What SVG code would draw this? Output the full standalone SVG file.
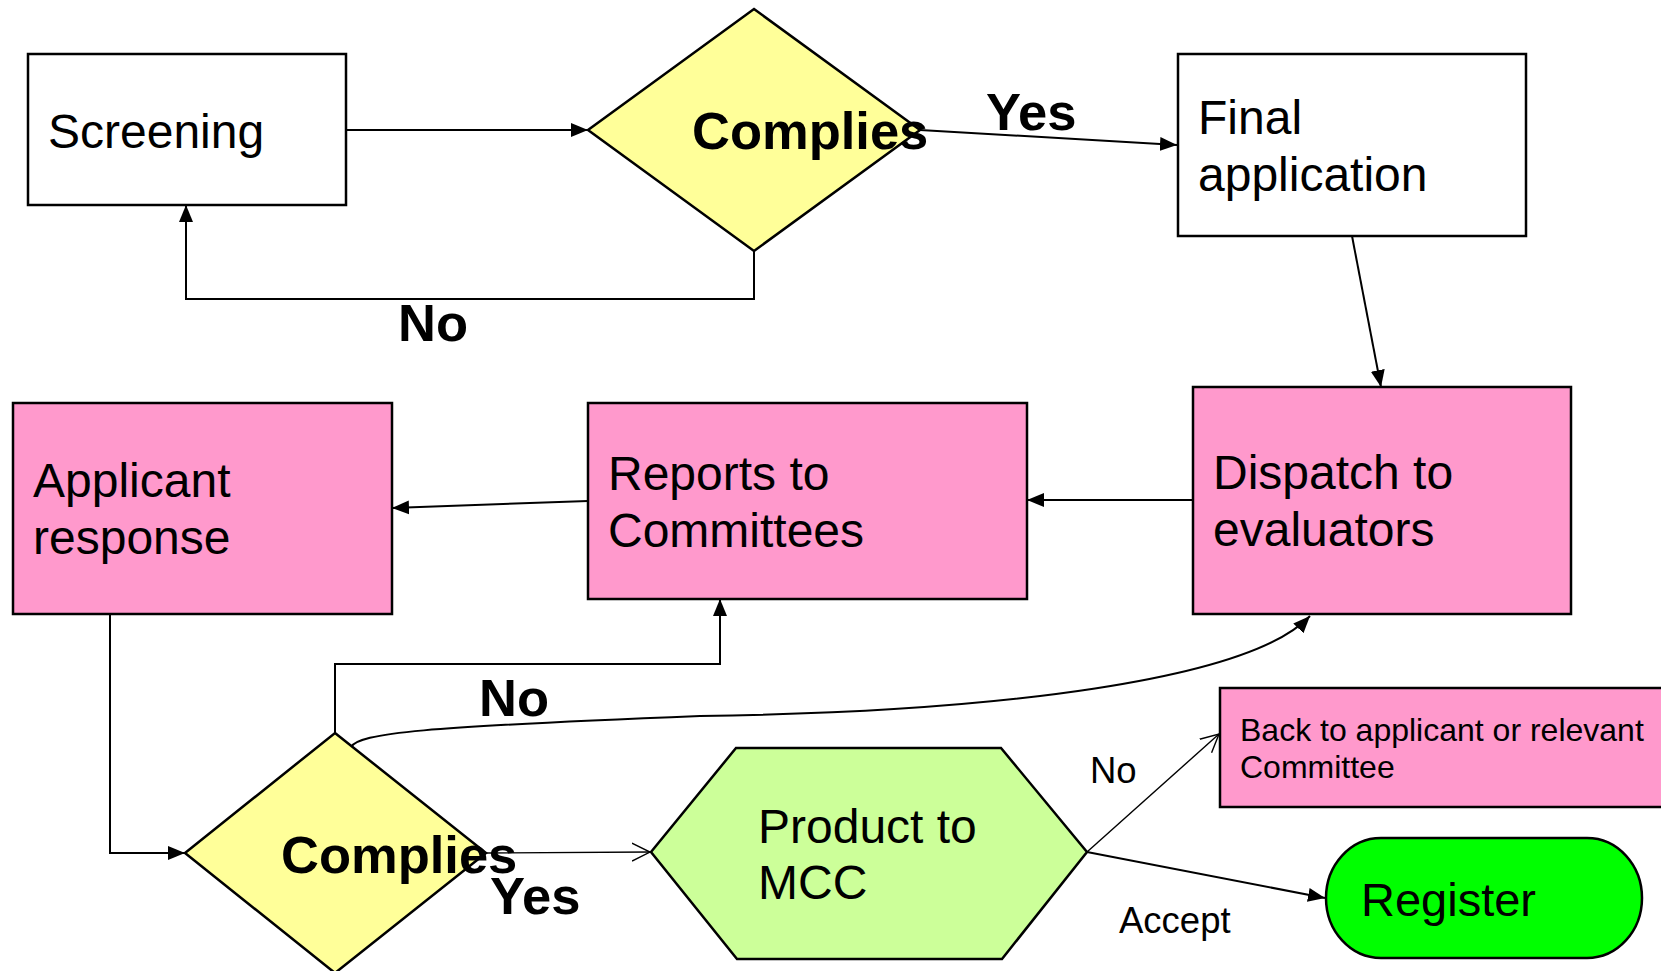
<svg xmlns="http://www.w3.org/2000/svg" width="1661" height="971" viewBox="0 0 1661 971">
<style>
.box{stroke:#000;stroke-width:2.5}
.t{font-family:"Liberation Sans",Arial,sans-serif;font-size:48px;fill:#000}
.b{font-family:"Liberation Sans",Arial,sans-serif;font-size:52.5px;font-weight:bold;fill:#000}
.s{font-family:"Liberation Sans",Arial,sans-serif;font-size:36.5px;fill:#000}
.c{fill:none;stroke:#000;stroke-width:2}
.thin{fill:none;stroke:#000;stroke-width:1.4}
</style>
<defs>
<marker id="arr" markerUnits="userSpaceOnUse" markerWidth="18" markerHeight="16" refX="17" refY="8" orient="auto"><path d="M0,1 L17,8 L0,15 Z" fill="#000"/></marker>
<marker id="open" markerUnits="userSpaceOnUse" markerWidth="20" markerHeight="20" refX="18" refY="10" orient="auto"><path d="M0,1 L18,10 L0,19" fill="none" stroke="#000" stroke-width="1.4"/></marker>
</defs>
<rect width="1661" height="971" fill="#fff"/>
<g id="connectors">
<line class="c" x1="346" y1="130" x2="588" y2="130" marker-end="url(#arr)"/>
<line class="c" x1="920" y1="130" x2="1177" y2="145" marker-end="url(#arr)"/>
<path class="c" d="M754,251 V299 H186 V205" marker-end="url(#arr)"/>
<line class="c" x1="1352" y1="236" x2="1381" y2="387" marker-end="url(#arr)"/>
<line class="c" x1="1193" y1="500" x2="1027" y2="500" marker-end="url(#arr)"/>
<line class="c" x1="588" y1="501" x2="392" y2="508" marker-end="url(#arr)"/>
<path class="c" d="M110,614 V853 H185" marker-end="url(#arr)"/>
<path class="c" d="M335,733 V664 H720 V599" marker-end="url(#arr)"/>
<path class="c" d="M351,747 C360,733 420,727 700,716 C1000,712 1250,680 1310,616" marker-end="url(#arr)"/>
<line class="thin" x1="486" y1="853" x2="650" y2="852" marker-end="url(#open)"/>
<line class="thin" x1="1087" y1="852" x2="1219" y2="734" marker-end="url(#open)"/>
<line class="c" x1="1087" y1="852" x2="1325" y2="898" marker-end="url(#arr)"/>
</g>
<g id="screening">
<rect class="box" x="28" y="54" width="318" height="151" fill="#fff"/>
<text class="t" x="48" y="148">Screening</text>
</g>
<g id="complies1">
<polygon class="box" points="754,9 920,130 754,251 588,130" fill="#FFFF99" stroke-width="2"/>
<text class="b" x="692" y="149">Complies</text>
</g>
<g id="final">
<rect class="box" x="1178" y="54" width="348" height="182" fill="#fff"/>
<text class="t" x="1198" y="134">Final</text>
<text class="t" x="1198" y="191">application</text>
</g>
<g id="dispatch">
<rect class="box" x="1193" y="387" width="378" height="227" fill="#FF99CC"/>
<text class="t" x="1213" y="489">Dispatch to</text>
<text class="t" x="1213" y="546">evaluators</text>
</g>
<g id="reports">
<rect class="box" x="588" y="403" width="439" height="196" fill="#FF99CC"/>
<text class="t" x="608" y="490">Reports to</text>
<text class="t" x="608" y="547">Committees</text>
</g>
<g id="applicant">
<rect class="box" x="13" y="403" width="379" height="211" fill="#FF99CC"/>
<text class="t" x="33" y="497">Applicant</text>
<text class="t" x="33" y="554">response</text>
</g>
<g id="complies2">
<polygon class="box" points="335,733 486,853 335,973 185,853" fill="#FFFF99" stroke-width="2"/>
<text class="b" x="281" y="873">Complies</text>
</g>
<g id="product">
<polygon class="box" points="651,852 736,748 1001,748 1087,852 1002,959 737,959" fill="#CCFF99" stroke-width="2"/>
<text class="t" x="758" y="843">Product to</text>
<text class="t" x="758" y="899">MCC</text>
</g>
<g id="back">
<rect class="box" x="1220" y="688" width="460" height="119" fill="#FF99CC"/>
<text class="t" x="1240" y="741" style="font-size:32px">Back to applicant or relevant</text>
<text class="t" x="1240" y="778" style="font-size:32px">Committee</text>
</g>
<g id="register">
<rect class="box" x="1326" y="838" width="316" height="120" rx="55" ry="60" fill="#00FF00" stroke-width="2"/>
<text class="t" x="1361" y="916" style="font-size:47px">Register</text>
</g>
<g id="labels">
<text class="b" x="986" y="130">Yes</text>
<text class="b" x="398" y="341">No</text>
<text class="b" x="479" y="716">No</text>
<text class="b" x="490" y="914">Yes</text>
<text class="s" x="1090" y="783">No</text>
<text class="s" x="1119" y="933">Accept</text>
</g>
</svg>
